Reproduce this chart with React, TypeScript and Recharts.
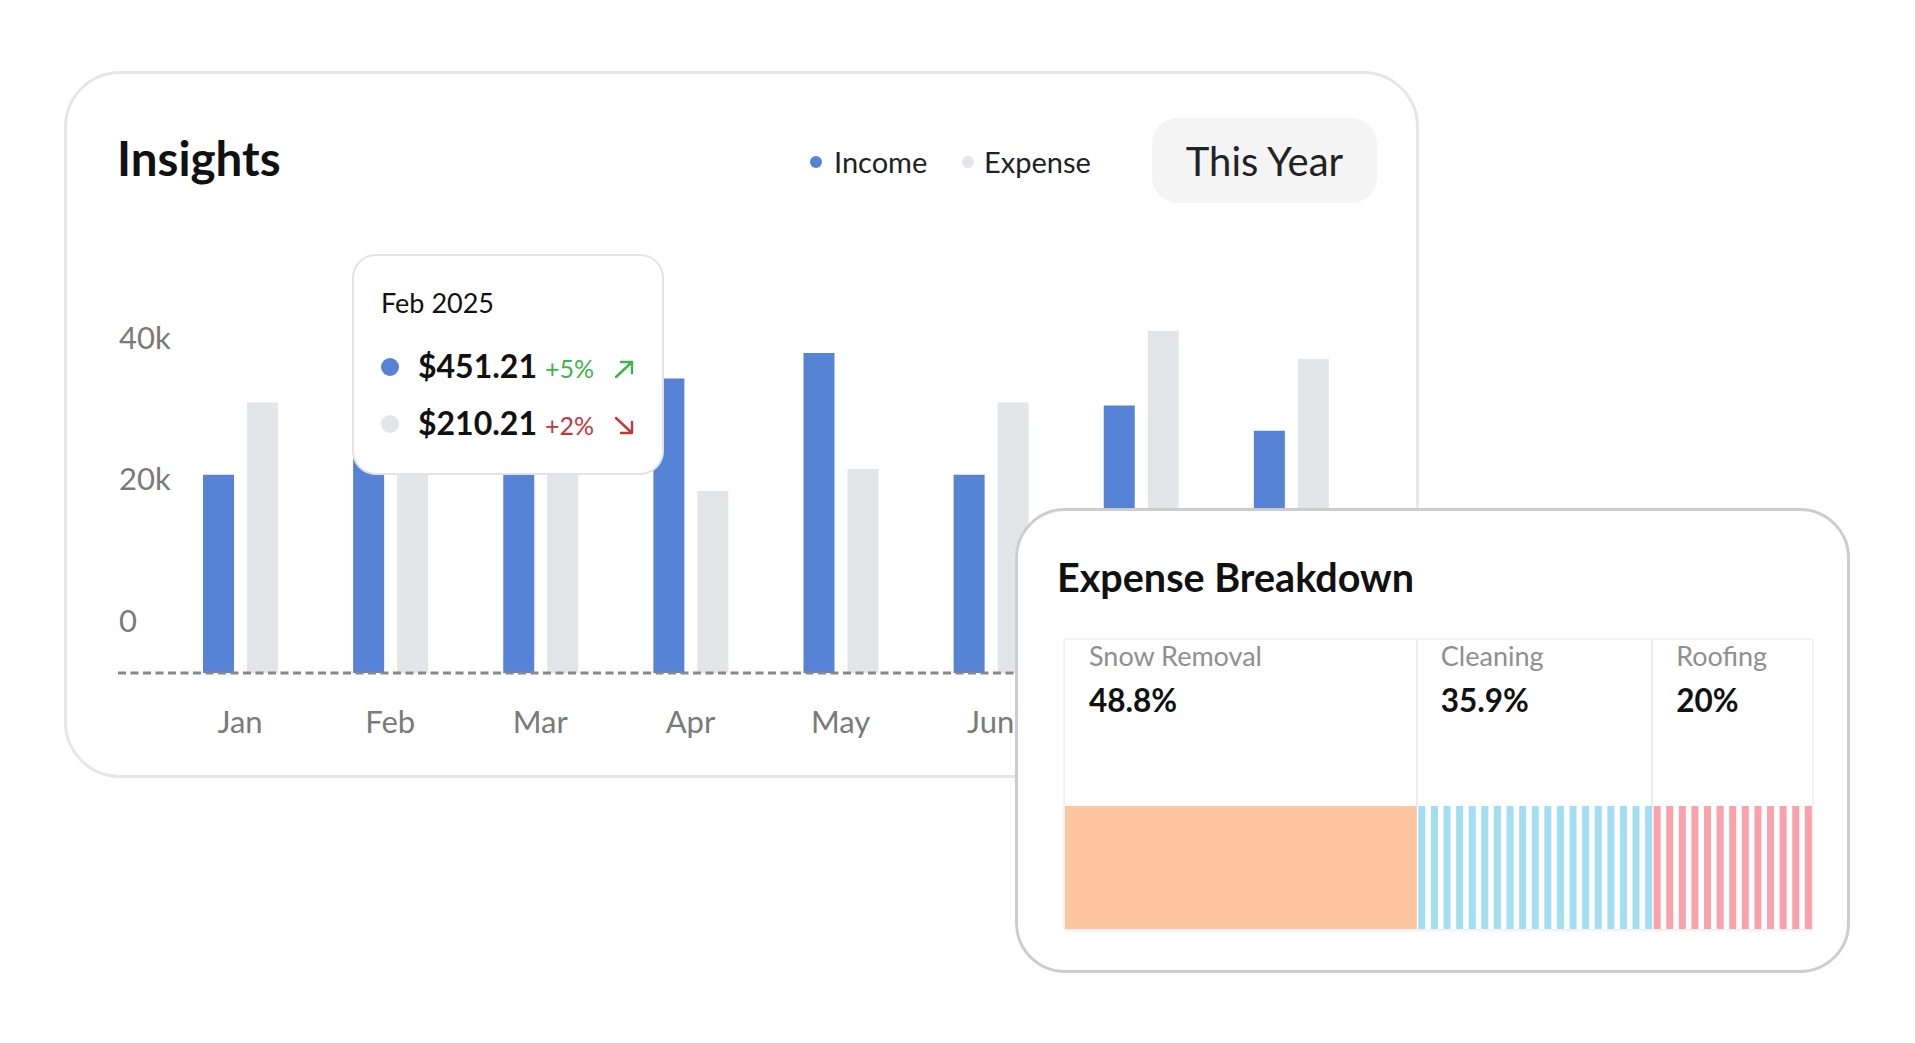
import React from 'react'
import { BarChart, Bar, XAxis, YAxis, Tooltip, LabelList } from 'recharts'

const FONT = 'Lato, "Noto Sans", sans-serif'

// monthly insights
const months = ['Jan', 'Feb', 'Mar', 'Apr', 'May', 'Jun', 'Jul', 'Aug']
const income = [28000, 31000, 30000, 41600, 45200, 28000, 37800, 34200]
const expense = [38200, 36000, 34000, 25700, 28800, 38200, 48300, 44400]
const yTicks = [0, 20000, 40000]
const yTickLabels = ['0', '20k', '40k']

const seriesKeys = ['income', 'expense']
const seriesNames = ['Income', 'Expense']
const seriesColors = ['#5683D6', '#E4E5E8']

// tooltip card (Feb)
const tooltipIndex = 1
const tooltipYear = '2025'
const tooltipAmounts = ['$451.21', '$210.21']
const tooltipChanges = ['+5%', '+2%']
const tooltipTrend = ['up', 'down']

// expense breakdown
const breakdownKeys = ['snow', 'cleaning', 'roofing']
const breakdownNames = ['Snow Removal', 'Cleaning', 'Roofing']
const breakdownPct = ['48.8%', '35.9%', '20%']
const breakdownShare = [47.1, 31.5, 21.4]
const breakdownColors = ['#FEC6A0', '#A3DFF2', '#F9A2AC']

const chartData = months.map((m, i) => ({ month: m, income: income[i], expense: expense[i] }))
const breakdownRow = [
  breakdownKeys.reduce((row: any, k, i) => ({ ...row, [k]: breakdownShare[i] }), { name: 'Expense' }),
]

function Txt({ x, cy, fs, weight = 400, color = '#111', children }: any) {
  return (
    <div
      style={{
        position: 'absolute',
        left: x,
        top: cy - 0.53 * fs,
        fontSize: fs,
        lineHeight: `${fs}px`,
        fontWeight: weight,
        color,
        whiteSpace: 'nowrap',
      }}
    >
      {children}
    </div>
  )
}

function MonthTick(props: any) {
  const { x, y, payload } = props
  return (
    <text x={x} y={y + 60} textAnchor="middle" fontSize={31} fill="#7a7a7a">
      {payload.value}
    </text>
  )
}

function ValueTick(props: any) {
  const { x, y, payload } = props
  const idx = yTicks.indexOf(payload.value)
  return (
    <text x={x + 1} y={y - 52 + 11} textAnchor="start" fontSize={31} fill="#7a7a7a">
      {yTickLabels[idx]}
    </text>
  )
}

function Arrow({ dir, color }: any) {
  const d = dir === 'up' ? 'M3 18 L19 3 M8 3 H19 V14' : 'M3 2 L19 17 M19 6 V17 H8'
  return (
    <svg width={22} height={20} viewBox="0 0 22 20">
      <path d={d} stroke={color} strokeWidth={2.4} fill="none" strokeLinecap="round" strokeLinejoin="round" />
    </svg>
  )
}

function TipContent({ label }: any) {
  return (
    <div
      style={{
        width: 312,
        height: 221,
        boxSizing: 'border-box',
        border: '2.5px solid #e3e3e3',
        borderRadius: 24,
        background: '#fff',
        position: 'relative',
        fontFamily: FONT,
      }}
    >
      <Txt x={27} cy={47} fs={27}>{`${label} ${tooltipYear}`}</Txt>
      {tooltipAmounts.map((amt, i) => {
        const cy = 111 + i * 57
        const up = tooltipTrend[i] === 'up'
        const c = up ? '#3BB54A' : '#C5363B'
        return (
          <React.Fragment key={amt}>
            <div
              style={{
                position: 'absolute',
                left: 27,
                top: cy - 9,
                width: 18,
                height: 18,
                borderRadius: '50%',
                background: seriesColors[i],
              }}
            />
            <Txt x={64} cy={cy} fs={32} weight={700}>{amt}</Txt>
            <Txt x={191} cy={cy + 2} fs={25} color={c}>{tooltipChanges[i]}</Txt>
            <div style={{ position: 'absolute', left: 259, top: cy - 8 }}>
              <Arrow dir={tooltipTrend[i]} color={c} />
            </div>
          </React.Fragment>
        )
      })}
    </div>
  )
}

function StripedBar(props: any) {
  const { x, y, width, height, fill } = props
  const stripes = []
  for (let sx = x + 1.5; sx < x + width - 1; sx += 12.6) {
    stripes.push(<rect key={sx} x={sx} y={y} width={Math.min(7, x + width - sx)} height={height} fill={fill} />)
  }
  return <g>{stripes}</g>
}

function SegmentLabel(props: any) {
  const vb = props.viewBox || props
  const { x, y } = vb
  const i = props.seg
  return (
    <g>
      {i > 0 && <line x1={x} x2={x} y1={y - 166} y2={y} stroke="#ececec" strokeWidth={2} />}
      <text x={x + 24} y={y - 140} fontSize={27} fill="#8f8f8f">
        {breakdownNames[i]}
      </text>
      <text x={x + 24} y={y - 94} fontSize={31.5} fontWeight={700} fill="#111">
        {breakdownPct[i]}
      </text>
    </g>
  )
}

export default function App() {
  return (
    <div
      style={{
        position: 'absolute',
        left: 0,
        top: 0,
        width: 1915,
        height: 1043,
        background: '#fff',
        fontFamily: FONT,
        overflow: 'hidden',
      }}
    >
      {/* Insights card */}
      <div
        style={{
          position: 'absolute',
          left: 64,
          top: 71,
          width: 1355,
          height: 707,
          border: '3px solid #e6e6e6',
          borderRadius: 56,
          boxSizing: 'border-box',
          background: '#fff',
        }}
      />
      <Txt x={117} cy={159} fs={47.5} weight={700}>Insights</Txt>
      {seriesNames.map((n, i) => (
        <React.Fragment key={n}>
          <div
            style={{
              position: 'absolute',
              left: (i === 0 ? 816 : 968) - 6,
              top: 156,
              width: 12,
              height: 12,
              borderRadius: '50%',
              background: seriesColors[i],
            }}
          />
          <Txt x={i === 0 ? 834 : 984} cy={162} fs={29} color="#222">{n}</Txt>
        </React.Fragment>
      ))}
      <div
        style={{
          position: 'absolute',
          left: 1152,
          top: 118,
          width: 225,
          height: 85,
          borderRadius: 26,
          background: '#f4f4f5',
          display: 'flex',
          alignItems: 'center',
          justifyContent: 'center',
          fontSize: 40,
          color: '#222',
        }}
      >
        This Year
      </div>

      <div style={{ position: 'absolute', left: 100, top: 240 }}>
        <BarChart
          width={1300}
          height={513}
          data={chartData}
          margin={{ top: 79, right: 19, bottom: 0, left: 17 }}
          barSize={31}
          barGap={13}
        >
          <XAxis
            dataKey="month"
            height={80}
            interval={0}
            axisLine={{ stroke: '#888888', strokeWidth: 3, strokeDasharray: '8 4.5' }}
            tickLine={false}
            tickSize={0}
            tickMargin={0}
            padding={{ left: 47, right: 15 }}
            tick={<MonthTick />}
          />
          <YAxis
            width={1}
            domain={[0, 50000]}
            ticks={yTicks}
            interval={0}
            axisLine={false}
            tickLine={false}
            tickSize={0}
            tickMargin={0}
            tick={<ValueTick />}
          />
          <Tooltip
            active
            defaultIndex={tooltipIndex}
            position={{ x: 252, y: 14 }}
            cursor={false}
            isAnimationActive={false}
            wrapperStyle={{ outline: 'none', zIndex: 5 }}
            content={<TipContent />}
          />
          {seriesKeys.map((k, i) => (
            <Bar key={k} dataKey={k} name={seriesNames[i]} fill={seriesColors[i]} isAnimationActive={false} />
          ))}
        </BarChart>
      </div>

      {/* Expense breakdown card */}
      <div
        style={{
          position: 'absolute',
          left: 1015,
          top: 508,
          width: 835,
          height: 465,
          border: '3px solid #cdcdcd',
          borderRadius: 50,
          boxSizing: 'border-box',
          background: '#fff',
          zIndex: 10,
        }}
      >
        <Txt x={39} cy={67} fs={39.5} weight={700}>Expense Breakdown</Txt>
        <div
          style={{
            position: 'absolute',
            left: 47,
            top: 129,
            width: 747,
            height: 289,
            boxShadow: '0 0 0 1.5px #f0f0f0, 0 2px 4px rgba(0,0,0,0.05)',
          }}
        >
          <BarChart
            layout="vertical"
            width={747}
            height={289}
            data={breakdownRow}
            margin={{ top: 166, right: 0, bottom: 0, left: 0 }}
            barCategoryGap={0}
          >
            <XAxis type="number" hide domain={[0, 100]} />
            <YAxis type="category" dataKey="name" hide />
            {breakdownKeys.map((k, i) => (
              <Bar
                key={k}
                dataKey={k}
                stackId="s"
                fill={breakdownColors[i]}
                isAnimationActive={false}
                shape={i === 0 ? undefined : (p: any) => <StripedBar {...p} />}
              >
                <LabelList dataKey={k} content={(p: any) => <SegmentLabel {...p} seg={i} />} />
              </Bar>
            ))}
          </BarChart>
        </div>
      </div>
    </div>
  )
}
